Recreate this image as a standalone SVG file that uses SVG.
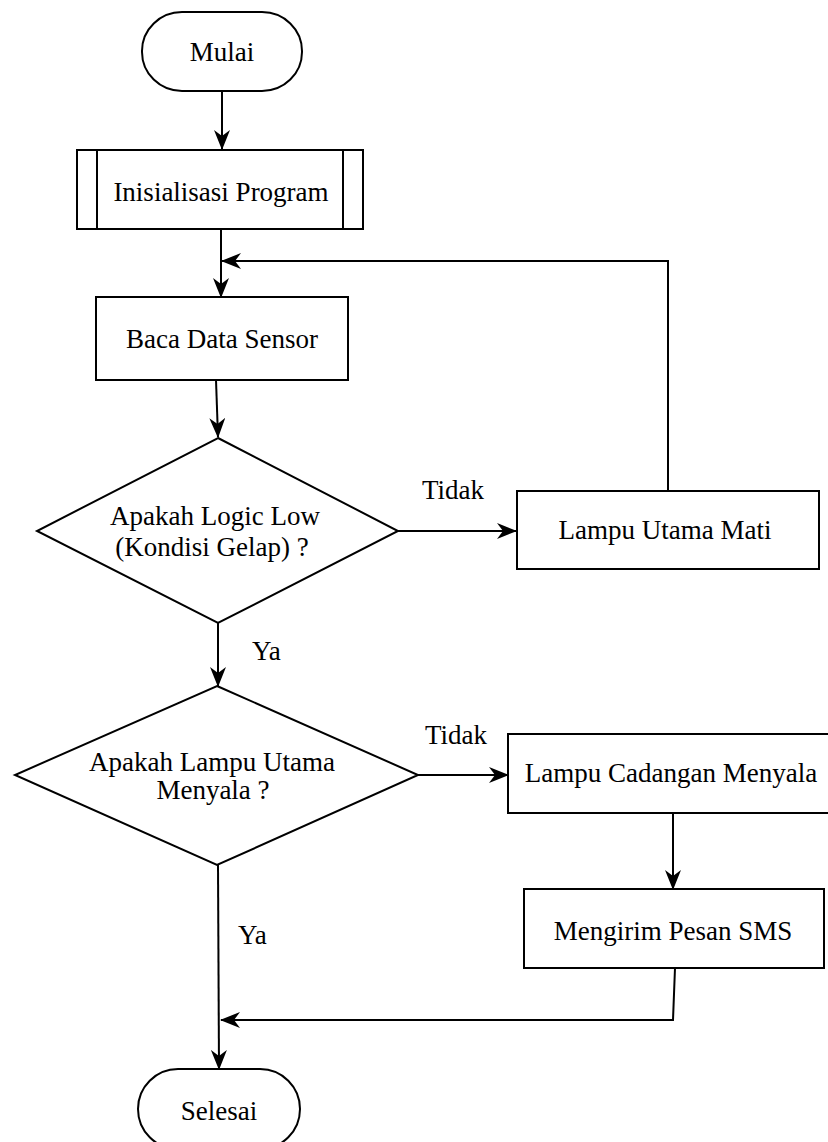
<svg xmlns="http://www.w3.org/2000/svg" width="828" height="1142" viewBox="0 0 828 1142">
  <defs>
    <marker id="arrow" viewBox="0 0 20 16" refX="19" refY="8" markerWidth="20" markerHeight="16" markerUnits="userSpaceOnUse" orient="auto">
      <path d="M0,0 L20,8 L0,16 L6,8 z" fill="#000"/>
    </marker>
    <style>
      .shape { fill: #fff; stroke: #000; stroke-width: 2; }
      .line { fill: none; stroke: #000; stroke-width: 2; }
      .edge { fill: none; stroke: #000; stroke-width: 2; marker-end: url(#arrow); }
      text { font-family: "Liberation Serif", "Times New Roman", serif; font-size: 27px; fill: #000; }
      .c { text-anchor: middle; }
    </style>
  </defs>
  <rect width="828" height="1142" fill="#fff"/>

  <!-- connectors -->
  <g id="connectors">
    <path class="edge" d="M222,91 L222,149"/>
    <path class="edge" d="M221,229 L221,297"/>
    <path class="edge" d="M668,491 L668,261 L222,261"/>
    <path class="edge" d="M216,380 L218,437"/>
    <path class="edge" d="M398,531 L516,531"/>
    <path class="edge" d="M218,623 L218,686"/>
    <path class="edge" d="M418,775 L508,775"/>
    <path class="edge" d="M673,813 L673,889"/>
    <path class="edge" d="M675,968 L673,1020 L221,1020"/>
    <path class="edge" d="M218,865 L219,1069"/>
    <text x="422" y="499">Tidak</text>
    <text x="252" y="660">Ya</text>
    <text x="425" y="744">Tidak</text>
    <text x="238" y="944">Ya</text>
  </g>

  <g id="start">
    <rect class="shape" x="142" y="12" width="160" height="79" rx="40" ry="39"/>
    <text class="c" x="222" y="61">Mulai</text>
  </g>

  <g id="init">
    <rect class="shape" x="77" y="150" width="286" height="79"/>
    <line class="line" x1="97" y1="150" x2="97" y2="229"/>
    <line class="line" x1="343" y1="150" x2="343" y2="229"/>
    <text class="c" x="221" y="201">Inisialisasi Program</text>
  </g>

  <g id="read-sensor">
    <rect class="shape" x="96" y="297" width="252" height="83"/>
    <text class="c" x="222" y="348">Baca Data Sensor</text>
  </g>

  <g id="check-dark">
    <polygon class="shape" points="218,438 398,531 218,623 37,531"/>
    <text class="c" x="215" y="525">Apakah Logic Low</text>
    <text class="c" x="212" y="556">(Kondisi Gelap) ?</text>
  </g>

  <g id="main-off">
    <rect class="shape" x="517" y="491" width="302" height="78"/>
    <text class="c" x="665" y="539">Lampu Utama Mati</text>
  </g>

  <g id="check-main">
    <polygon class="shape" points="217,686 418,775 217,865 15,775"/>
    <text class="c" x="212" y="771">Apakah Lampu Utama</text>
    <text class="c" x="213" y="799">Menyala ?</text>
  </g>

  <g id="backup-on">
    <rect class="shape" x="508" y="734" width="324" height="79"/>
    <text class="c" x="671" y="782">Lampu Cadangan Menyala</text>
  </g>

  <g id="send-sms">
    <rect class="shape" x="524" y="889" width="300" height="79"/>
    <text class="c" x="673" y="940">Mengirim Pesan SMS</text>
  </g>

  <g id="end">
    <rect class="shape" x="138" y="1069" width="162" height="80" rx="40" ry="40"/>
    <text class="c" x="219" y="1120">Selesai</text>
  </g>
</svg>
